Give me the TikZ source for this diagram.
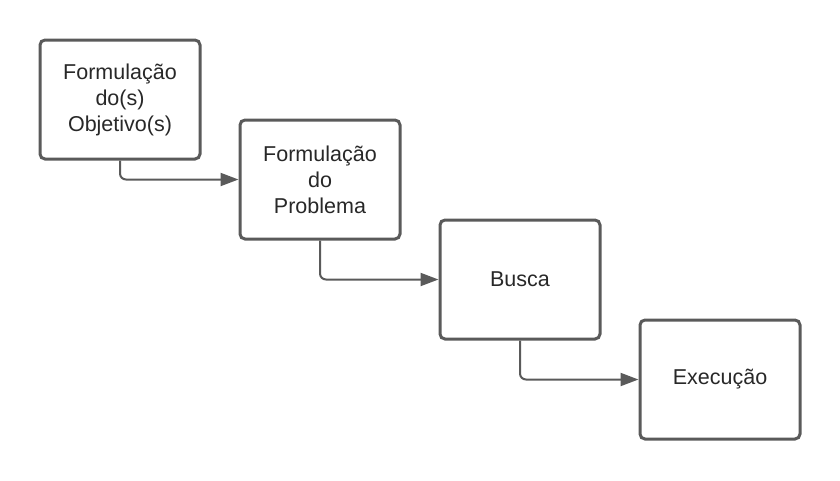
\documentclass[tikz,border=0pt]{standalone}
\usepackage{fontspec}
\setmainfont{Liberation Sans}
\usetikzlibrary{arrows.meta}
\definecolor{lcGray}{RGB}{90, 90, 90}
\definecolor{lcText}{RGB}{40, 40, 40}
\tikzset{
  etapa/.style={draw=lcGray, line width=3pt, rounded corners=5pt, fill=white,
    minimum width=160pt, minimum height=119pt, inner sep=4pt, align=center,
    text=lcText, font=\fontsize{21.5}{26}\selectfont},
  fluxo/.style={draw=lcGray, line width=2pt, rounded corners=6pt,
    -{Triangle[length=18pt, width=13pt]}}
}

\begin{document}
\begin{tikzpicture}[x=1pt, y=-1pt]
    \useasboundingbox (0, 0) rectangle (840, 480);
    \foreach \nome/\texto/\x/\y in {%
      obj/{Formulação\\do(s)\\Objetivo(s)}/120/99.5,%
      prob/{Formulação\\do\\Problema}/320/179.5,%
      busca/{Busca}/520/279.5,%
      exec/{Execução}/720/379.5%
    }{%
      \node[etapa] (\nome) at (\x, \y) {\texto};
    }
    \foreach \de/\para in {obj/prob, prob/busca, busca/exec}{%
      \draw[fluxo] (\de.south) |- (\para.west);
    }
  \end{tikzpicture}
\end{document}
